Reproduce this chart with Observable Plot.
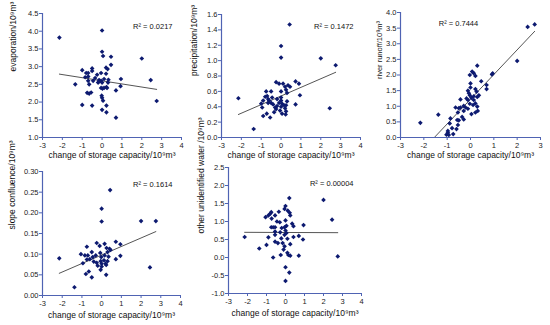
<!DOCTYPE html>
<html>
<head>
<meta charset="utf-8">
<script src="https://cdn.jsdelivr.net/npm/d3@7"></script>
<script src="https://cdn.jsdelivr.net/npm/@observablehq/plot@0.6"></script>
<style>
  html, body { margin: 0; padding: 0; background: #fff; }
  #chart { position: relative; width: 550px; height: 325px; overflow: hidden; background: #fff; }
</style>
</head>
<body>
<div id="chart"></div>
<script>
// ---------- data ----------
const xLabel = "change of storage capacity/10⁹m³";
const yLabels = ["evaporation/10⁹m³", "precipitation/10⁹m³", "river runoff/10⁹m³", "slope confluence/10⁹m³", "other unidentified water /10⁹m³"];
const r2Labels = ["R² = 0.0217", "R² = 0.1472", "R² = 0.7444", "R² = 0.1614", "R² = 0.00004"];

const xTicks = [-3, -2, -1, 0, 1, 2, 3, 4];
const xTicks3 = [-3, -2, -1, 0, 1, 2, 3];
const yTicks1 = [1.0, 1.5, 2.0, 2.5, 3.0, 3.5, 4.0, 4.5];
const yTicks2 = [0.0, 0.2, 0.4, 0.6, 0.8, 1.0, 1.2, 1.4, 1.6];
const yTicks3 = [0.0, 0.5, 1.0, 1.5, 2.0, 2.5, 3.0, 3.5, 4.0];
const yTicks4 = [0.00, 0.05, 0.10, 0.15, 0.20, 0.25, 0.30];
const yTicks5 = [-1.0, -0.5, 0.0, 0.5, 1.0, 1.5, 2.0, 2.5];

// trend line coefficients (y = intercept + slope * x)
const trendSlope = [-0.088, 0.112, 0.79, 0.0206, -0.002];
const trendIntercept = [2.60, 0.54, 1.225, 0.098, 0.695];

// evaporation
const evapX = [-2.15,-1.35,0.0,0.0,0.05,0.45,0.45,2.0,2.45,2.75,0.95,0.93,0.7,0.7,0.22,0.22,0.0,0.05,0.0,-0.02,-1.0,-0.5,-0.75,-0.65,-0.55,-1.0,-0.8,-0.7,-0.85,-0.7,-0.5,-0.5,-0.45,-0.35,-0.25,-0.15,-0.05,-0.05,0.0,0.1,0.2,0.28,0.2,0.3,0.22,-0.05,0.02,0.1,-0.2,-0.15,0.32,0.25,-0.7,-0.65];
const evapY = [3.82,2.5,4.02,3.42,3.3,3.28,3.05,3.23,2.62,2.03,2.65,2.45,2.33,1.56,1.71,1.9,1.78,2.04,2.12,2.18,1.92,1.9,2.26,2.24,2.27,2.9,2.82,2.82,2.7,2.72,2.95,2.88,2.6,2.68,2.77,2.62,2.82,2.6,2.55,2.65,2.97,2.93,2.8,2.55,2.42,2.4,2.38,2.4,2.55,2.58,2.63,2.4,2.6,2.5];

// precipitation
const precX = [-2.15,-1.38,0.43,0.0,0.0,2.0,2.75,2.45,0.95,0.9,0.73,0.73,0.23,-0.55,-0.9,-0.72,-1.0,-0.95,-0.75,-0.7,-0.65,-0.6,-0.5,-0.45,-0.5,-0.4,-0.3,-0.25,-0.25,-0.1,0.0,0.0,0.0,0.05,0.0,-0.05,0.05,0.1,0.2,0.25,0.3,0.3,0.25,0.35,0.45,0.15,0.2,0.25,-0.2,-0.1,-0.2,-0.35,-0.9,-0.8,-0.65];
const precY = [0.51,0.11,1.47,1.19,1.04,1.03,0.94,0.38,0.55,0.7,0.73,0.43,0.30,0.26,0.28,0.31,0.44,0.39,0.6,0.54,0.5,0.48,0.6,0.52,0.45,0.43,0.39,0.37,0.72,0.7,0.6,0.52,0.48,0.44,0.4,0.35,0.31,0.7,0.66,0.62,0.58,0.47,0.42,0.68,0.66,0.42,0.38,0.34,0.5,0.45,0.41,0.33,0.48,0.53,0.45];

// river runoff
const runX = [-2.15,-1.38,2.45,2.75,2.0,0.95,0.92,0.69,0.69,0.29,0.07,0.14,-0.03,0.21,0.46,0.0,0.0,0.21,0.26,0.36,0.29,0.14,0.04,-0.11,-0.07,-0.03,-0.11,-0.17,0.14,0.21,0.11,0.29,0.31,0.21,0.04,-0.03,-0.11,-0.43,-0.29,-0.29,-0.21,-0.43,-0.64,-0.5,-0.54,-0.36,-0.29,-0.57,-0.5,-0.86,-0.89,-0.79,-0.97,-1.03,-0.74,-0.6,-0.54,-0.97,-0.93];
const runY = [0.47,0.73,3.54,3.62,2.45,2.05,2.02,1.68,1.55,2.3,2.11,2.06,2.0,1.97,1.8,1.73,1.6,1.55,1.47,1.35,1.3,1.32,1.27,1.5,1.42,1.35,1.2,1.25,1.2,1.09,1.04,0.99,0.85,0.8,0.75,1.08,0.92,1.22,1.01,0.85,0.96,0.96,0.96,0.94,0.8,0.66,0.58,0.56,0.55,0.61,0.45,0.3,0.21,0.09,0.11,0.27,0.4,0.15,0.08];

// slope confluence
const slopeX = [-2.15,-1.38,0.43,0.0,0.0,2.0,2.75,2.45,0.95,0.95,0.72,0.72,0.23,-0.5,-0.8,-0.65,-0.95,-0.75,-0.7,-0.6,-0.5,-0.45,-0.4,-0.25,-0.25,-0.2,-0.1,-0.07,-0.02,-0.05,0.0,0.0,-0.05,0.15,0.25,0.3,0.35,0.3,0.23,0.4,0.45,0.15,0.12,0.2,-0.85,-0.75,-1.05,-0.3];
const slopeY = [0.09,0.02,0.255,0.21,0.179,0.18,0.18,0.068,0.096,0.124,0.13,0.088,0.05,0.044,0.052,0.058,0.078,0.118,0.097,0.088,0.105,0.093,0.082,0.127,0.079,0.072,0.12,0.103,0.093,0.083,0.077,0.07,0.062,0.125,0.115,0.105,0.094,0.083,0.074,0.113,0.11,0.097,0.085,0.077,0.097,0.087,0.1,0.097];

// other unidentified water
const otherX = [-2.15,-1.38,0.2,2.0,2.45,2.75,0.95,0.92,0.7,0.7,0.25,0.15,0.1,0.25,0.0,0.0,0.2,-0.1,-0.05,-0.25,-0.65,-1.0,-1.05,-0.9,-0.8,-0.75,-0.73,-0.55,-0.45,-0.35,-0.9,-0.75,-0.65,-0.55,-0.55,-0.55,-0.55,-0.4,-0.3,-0.2,-0.28,-0.22,-0.15,-0.05,0.0,0.0,0.05,-0.05,0.0,0.05,-0.05,0.12,0.22,0.25,0.35,0.42,0.1,0.42];
const otherY = [0.57,0.25,1.65,1.6,1.05,0.03,0.9,0.5,0.6,0.05,0.05,0.07,0.13,0.37,-0.27,-0.65,-0.42,0.22,0.31,0.07,0.0,0.35,1.12,1.17,1.22,1.26,1.08,1.17,1.0,1.27,0.56,0.84,0.84,0.84,0.72,0.63,0.44,0.4,0.98,0.82,0.7,0.53,0.4,1.35,1.43,1.03,0.88,0.84,0.75,0.68,0.63,1.3,1.24,1.17,0.94,0.87,0.52,0.57];

// ---------- drawing ----------
const axisColor = "#4f63b3";
const dotColor = "#0d1a70";
const font = "'Liberation Sans', Arial, sans-serif";
const fmt1 = d => d.toFixed(1);
const fmt2 = d => d.toFixed(2);

function panel(cfg) {
  const data = cfg.xs.map((x, i) => ({x, y: cfg.ys[i]}));
  const ext = d3.extent(cfg.xs);
  const trend = ext.map(x => ({x, y: cfg.b0 + cfg.b1 * x}));
  const svg = Plot.plot({
    width: cfg.w, height: cfg.h,
    marginLeft: cfg.mL, marginRight: cfg.mR, marginTop: cfg.mT, marginBottom: cfg.mB,
    style: {fontFamily: font, fontSize: "7.5px", background: "transparent", color: "#222"},
    x: {domain: [cfg.xTicks[0], cfg.xTicks[cfg.xTicks.length - 1]], axis: null},
    y: {domain: [cfg.yTicks[0], cfg.yTicks[cfg.yTicks.length - 1]], axis: null},
    marks: [
      Plot.axisX({ticks: cfg.xTicks, tickFormat: d => String(d), tickSize: 3, tickPadding: 2, stroke: axisColor, fill: "#222", label: null}),
      Plot.axisY({ticks: cfg.yTicks, tickFormat: cfg.yFmt, tickSize: 3, tickPadding: 1, stroke: axisColor, fill: "#222", label: null}),
      Plot.ruleX([cfg.xTicks[0]], {stroke: axisColor, strokeWidth: 1.2}),
      Plot.ruleY([cfg.yTicks[0]], {stroke: axisColor, strokeWidth: 1.2}),
      Plot.line(trend, {x: "x", y: "y", stroke: "#555", strokeWidth: 1, clip: true}),
      Plot.dot(data, {x: "x", y: "y", symbol: "diamond2", r: 2.1, fill: dotColor, stroke: "none"}),
      Plot.text([cfg.r2], {frameAnchor: cfg.r2Anchor, dx: cfg.r2dx, dy: cfg.r2dy, textAnchor: cfg.r2TextAnchor, fontSize: 7.5, fill: "#111"}),
      Plot.text([xLabel], {frameAnchor: "bottom", dy: cfg.xlDy, fontSize: 8.5, fill: "#111"}),
      Plot.text([cfg.yLabel], {frameAnchor: "left", dx: cfg.ylDx, dy: cfg.ylDy, rotate: -90, fontSize: cfg.ylSize, fill: "#111"})
    ]
  });
  svg.style.position = "absolute";
  svg.style.left = cfg.left + "px";
  svg.style.top = cfg.top + "px";
  svg.style.overflow = "visible";
  document.getElementById("chart").appendChild(svg);
}

panel({left: 0, top: 0, w: 185, h: 165, mL: 42, mR: 4, mT: 13, mB: 28,
  xs: evapX, ys: evapY, b0: trendIntercept[0], b1: trendSlope[0],
  xTicks: xTicks, yTicks: yTicks1, yFmt: fmt1, yLabel: yLabels[0], r2: r2Labels[0],
  r2Anchor: "top-right", r2dx: -9, r2dy: 10, r2TextAnchor: "end", xlDy: 20, ylDx: -29, ylDy: -4, ylSize: 8.5});

panel({left: 180, top: 0, w: 185, h: 165, mL: 41, mR: 5, mT: 14, mB: 28,
  xs: precX, ys: precY, b0: trendIntercept[1], b1: trendSlope[1],
  xTicks: xTicks, yTicks: yTicks2, yFmt: fmt1, yLabel: yLabels[1], r2: r2Labels[1],
  r2Anchor: "top-right", r2dx: -7, r2dy: 9, r2TextAnchor: "end", xlDy: 20, ylDx: -27, ylDy: 0, ylSize: 8.5});

panel({left: 365, top: 0, w: 185, h: 165, mL: 35, mR: 10, mT: 12, mB: 28,
  xs: runX, ys: runY, b0: trendIntercept[2], b1: trendSlope[2],
  xTicks: xTicks3, yTicks: yTicks3, yFmt: fmt1, yLabel: yLabels[2], r2: r2Labels[2],
  r2Anchor: "top", r2dx: -12, r2dy: 8, r2TextAnchor: "middle", xlDy: 20, ylDx: -21, ylDy: 4, ylSize: 7.5});

panel({left: 0, top: 160, w: 185, h: 165, mL: 42, mR: 5, mT: 11, mB: 30,
  xs: slopeX, ys: slopeY, b0: trendIntercept[3], b1: trendSlope[3],
  xTicks: xTicks, yTicks: yTicks4, yFmt: fmt2, yLabel: yLabels[3], r2: r2Labels[3],
  r2Anchor: "top-right", r2dx: -8, r2dy: 10, r2TextAnchor: "end", xlDy: 22, ylDx: -30, ylDy: -4, ylSize: 8.5});

panel({left: 180, top: 160, w: 185, h: 165, mL: 48, mR: 4, mT: 7, mB: 32,
  xs: otherX, ys: otherY, b0: trendIntercept[4], b1: trendSlope[4],
  xTicks: xTicks, yTicks: yTicks5, yFmt: fmt1, yLabel: yLabels[4], r2: r2Labels[4],
  r2Anchor: "top-right", r2dx: -8, r2dy: 13, r2TextAnchor: "end", xlDy: 22, ylDx: -27, ylDy: 3, ylSize: 8.5});
</script>
</body>
</html>
